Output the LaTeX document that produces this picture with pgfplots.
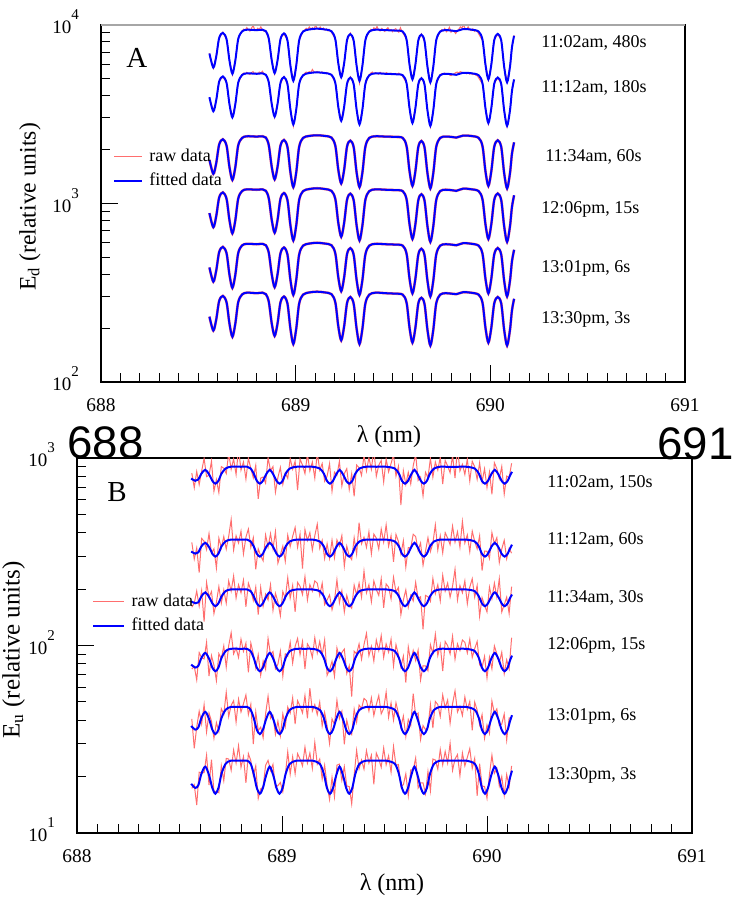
\documentclass[border=0pt]{standalone}
\usepackage{fontspec}
\setmainfont{Liberation Serif}
\newfontfamily\helv{Liberation Sans}
\usepackage{pgfplots}
\pgfplotsset{compat=1.18}
\usepackage{pgfplotstable}

\pgfplotstableread{
x a1 a2 a3 a4 a5 a6 b1 b2 b3 b4 b5 b6
688.557 6880 3920 1750 881 437 232 777 317 172 79.1 37.2 18.3
688.577 5740 3270 1460 734 364 194 756 309 168 76.3 35.6 17.4
688.592 6630 3780 1680 848 421 224 769 314 170 78.0 36.6 18.0
688.607 8410 4790 2130 1076 533 284 826 338 183 85.9 41.1 20.7
688.626 8980 5120 2280 1150 570 303 865 353 192 91.3 44.3 22.6
688.645 8270 4710 2100 1058 525 279 816 334 181 84.6 40.3 20.2
688.660 6280 3580 1590 803 398 212 756 309 168 76.3 35.6 17.4
688.675 5300 3020 1350 678 336 179 730 298 162 72.9 33.7 16.2
688.690 6280 3580 1590 803 398 212 756 309 168 76.3 35.6 17.4
688.705 8300 4730 2110 1063 527 280 826 338 183 85.9 41.1 20.7
688.725 9150 5220 2320 1171 581 309 879 359 195 93.4 45.4 23.4
688.750 9350 5330 2370 1196 593 316 898 367 199 96 47 24.3
688.800 9300 5300 2360 1190 590 314 898 367 199 96 47 24.3
688.830 9350 5330 2370 1196 593 316 898 367 199 96 47 24.3
688.847 9170 5230 2330 1173 582 310 879 359 195 93.4 45.4 23.4
688.862 8320 4740 2110 1065 528 281 826 338 183 85.9 41.1 20.7
688.877 6310 3600 1600 808 401 213 756 309 168 76.3 35.6 17.4
688.892 5350 3050 1360 684 339 181 730 298 162 72.9 33.7 16.2
688.907 6310 3600 1600 808 401 213 756 309 168 76.3 35.6 17.4
688.922 8270 4710 2100 1058 525 279 816 334 181 84.6 40.3 20.2
688.940 8920 5080 2260 1141 566 301 865 353 192 91.3 44.3 22.6
688.958 8120 4630 2060 1039 515 274 816 334 181 84.6 40.3 20.2
688.973 5890 3350 1490 753 373 199 756 309 168 76.3 35.6 17.4
688.988 4840 2760 1230 619 307 163 730 298 162 72.9 33.7 16.2
689.003 5890 3350 1490 753 373 199 756 309 168 76.3 35.6 17.4
689.018 8160 4650 2070 1044 517 275 826 338 183 85.9 41.1 20.7
689.038 9130 5200 2320 1169 579 308 879 359 195 93.4 45.4 23.4
689.070 9380 5350 2380 1201 595 317 898 367 199 96 47 24.3
689.110 9480 5400 2400 1213 601 320 898 367 199 96 47 24.3
689.150 9380 5350 2380 1201 595 317 898 367 199 96 47 24.3
689.184 9170 5230 2330 1173 582 310 879 359 195 93.4 45.4 23.4
689.204 8230 4690 2090 1053 522 278 826 338 183 85.9 41.1 20.7
689.219 6070 3460 1540 777 385 205 756 309 168 76.3 35.6 17.4
689.234 5070 2890 1290 649 322 171 730 298 162 72.9 33.7 16.2
689.249 6070 3460 1540 777 385 205 756 309 168 76.3 35.6 17.4
689.264 8190 4670 2080 1048 520 277 816 334 181 84.6 40.3 20.2
689.281 8840 5040 2240 1132 561 299 865 353 192 91.3 44.3 22.6
689.298 8120 4630 2060 1039 515 274 816 334 181 84.6 40.3 20.2
689.313 5890 3350 1490 753 373 199 756 309 168 76.3 35.6 17.4
689.328 4840 2760 1230 619 307 163 730 298 162 72.9 33.7 16.2
689.343 5890 3350 1490 753 373 199 756 309 168 76.3 35.6 17.4
689.358 8160 4650 2070 1044 517 275 826 338 183 85.9 41.1 20.7
689.378 9130 5200 2320 1169 579 308 879 359 195 93.4 45.4 23.4
689.410 9350 5330 2370 1196 593 316 898 367 199 96 47 24.3
689.460 9300 5300 2360 1190 590 314 898 367 199 96 47 24.3
689.510 9250 5270 2350 1184 587 312 898 367 199 96 47 24.3
689.550 9130 5200 2320 1169 579 308 879 359 195 93.4 45.4 23.4
689.570 8190 4670 2080 1048 520 277 826 338 183 85.9 41.1 20.7
689.585 5960 3400 1510 763 378 201 756 309 168 76.3 35.6 17.4
689.600 4930 2810 1250 631 313 166 730 298 162 72.9 33.7 16.2
689.615 5960 3400 1510 763 378 201 756 309 168 76.3 35.6 17.4
689.630 8140 4640 2065 1041 516 275 816 334 181 84.6 40.3 20.2
689.646 8780 5000 2230 1123 557 296 865 353 192 91.3 44.3 22.6
689.662 8080 4610 2050 1034 513 273 816 334 181 84.6 40.3 20.2
689.677 5810 3310 1475 744 369 196 756 309 168 76.3 35.6 17.4
689.692 4750 2710 1210 608 301 160 730 298 162 72.9 33.7 16.2
689.707 5810 3310 1475 744 369 196 756 309 168 76.3 35.6 17.4
689.722 8140 4640 2065 1041 516 275 826 338 183 85.9 41.1 20.7
689.742 9130 5200 2320 1169 579 308 879 359 195 93.4 45.4 23.4
689.770 9300 5300 2360 1190 590 314 898 367 199 96 47 24.3
689.800 9250 5270 2350 1184 587 312 898 367 199 96 47 24.3
689.825 9170 5230 2330 1173 582 310 898 367 199 96 47 24.3
689.860 9430 5370 2390 1207 598 318 898 367 199 96 47 24.3
689.900 9370 5340 2380 1198 594 316 898 367 199 96 47 24.3
689.940 9130 5200 2320 1169 579 308 879 359 195 93.4 45.4 23.4
689.960 8190 4670 2080 1048 520 277 826 338 183 85.9 41.1 20.7
689.975 5960 3400 1510 763 378 201 756 309 168 76.3 35.6 17.4
689.990 4930 2810 1250 631 313 166 730 298 162 72.9 33.7 16.2
690.005 5960 3400 1510 763 378 201 756 309 168 76.3 35.6 17.4
690.020 8160 4650 2070 1044 517 275 816 334 181 84.6 40.3 20.2
690.038 8860 5050 2250 1134 562 299 865 353 192 91.3 44.3 22.6
690.056 8140 4640 2065 1041 516 275 816 334 181 84.6 40.3 20.2
690.071 5810 3310 1475 744 369 196 756 309 168 76.3 35.6 17.4
690.086 4750 2710 1210 608 301 160 730 298 162 72.9 33.7 16.2
690.101 5810 3310 1475 744 369 196 756 309 168 76.3 35.6 17.4
690.111 7440 4240 1890 952 472 251 801 327 178 82.5 39.1 19.5
690.122 8650 4930 2190 1107 549 292 844 345 187 88.3 42.5 21.5
}\fitdata

\pgfplotstableread{
x y1 y2
688.557 6900 3880
688.577 5700 3300
688.592 6680 3750
688.607 8350 4830
688.626 9050 5080
688.645 8220 4750
688.660 6300 3560
688.675 5250 3050
688.690 6330 3600
688.705 8380 4700
688.725 9200 5250
688.733 9420 5350
688.741 9280 5280
688.749 9610 5400
688.757 9350 5320
688.765 9190 5250
688.773 9520 5380
688.781 9880 5450
688.789 9400 5300
688.797 9260 5360
688.805 9530 5270
688.813 9350 5420
688.821 9710 5330
688.829 9300 5480
688.837 9180 5290
688.845 9250 5250
688.862 8280 4780
688.877 6350 3570
688.892 5300 3020
688.907 6280 3630
688.922 8350 4680
688.940 8850 5120
688.958 8150 4600
688.973 5850 3380
688.988 4880 2700
689.003 5920 3320
689.018 8100 4700
689.038 9200 5180
689.046 9300 5330
689.054 9520 5420
689.062 9350 5370
689.070 9700 5450
689.078 9420 5390
689.086 9600 5600
689.094 9380 5420
689.102 9950 5380
689.110 9500 5460
689.118 9410 5400
689.126 9680 5350
689.134 9390 5430
689.142 9560 5380
689.150 9300 5320
689.158 9450 5390
689.166 9200 5340
689.174 9380 5280
689.182 9100 5250
689.204 8300 4720
689.219 6000 3430
689.234 5100 2920
689.249 6120 3480
689.264 8120 4630
689.281 8950 5100
689.298 8060 4650
689.313 5850 3310
689.328 4700 2790
689.343 5950 3380
689.358 8220 4620
689.378 9100 5230
689.386 9400 5350
689.394 9250 5420
689.402 9600 5300
689.410 9380 5380
689.418 9750 5330
689.426 9300 5270
689.434 9200 5400
689.442 9500 5320
689.450 9350 5350
689.458 9150 5290
689.466 9420 5380
689.474 9600 5310
689.482 9280 5260
689.490 9380 5340
689.498 9100 5300
689.506 9350 5250
689.514 9480 5320
689.522 9200 5280
689.530 9050 5350
689.538 9600 5240
689.546 9150 5200
689.570 8250 4700
689.585 5900 3370
689.600 4980 2840
689.615 6000 3420
689.630 8080 4600
689.646 8850 5050
689.662 8000 4640
689.677 5850 3290
689.692 4700 2680
689.707 5780 3340
689.722 8200 4670
689.742 9100 5180
689.750 9350 5310
689.758 9200 5280
689.766 9500 5350
689.774 9100 5260
689.782 9300 5300
689.790 9650 5230
689.798 9050 5180
689.806 9250 5250
689.814 9150 5300
689.822 8900 5380
689.830 9200 5420
689.838 9400 5360
689.846 9700 5450
689.854 9550 5400
689.862 9980 5330
689.870 9500 5380
689.878 9400 5300
689.886 9700 5350
689.894 9350 5280
689.902 9250 5320
689.910 9450 5250
689.918 9150 5300
689.926 9300 5200
689.934 9100 5150
689.960 8120 4640
689.975 6020 3430
689.990 4900 2780
690.005 5930 3380
690.020 8230 4690
690.038 8800 5020
690.056 8200 4660
690.071 5760 3330
690.086 4800 2690
690.101 5850 3290
690.111 7400 4260
690.122 8700 4900
}\rawAdata

\pgfplotstableread{
x b1 b2 b3 b4 b5 b6
688.560 831 355 160 74.9 40.6 17.3
688.572 694 289 168 77.3 28.3 18.1
688.584 847 331 195 65.6 36.7 14.1
688.596 721 245 162 91.6 44.6 21.1
688.608 851 372 196 85.9 38.2 20.9
688.620 995 360 134 84.9 48.3 21.0
688.632 796 325 217 104 34.6 26.0
688.644 809 395 181 68.7 43.6 18.0
688.656 961 311 194 88.3 39.5 24.6
688.668 665 328 148 78.6 32.0 16.5
688.680 767 259 170 64.9 38.8 16.7
688.692 654 374 206 90.5 34.8 16.4
688.704 900 331 168 85.0 46.0 22.8
688.716 882 381 198 99.5 43.0 19.0
688.728 826 327 168 76.6 56.3 25.0
688.740 1060 382 221 99.8 41.8 24.8
688.752 871 470 195 117 47.9 21.6
688.764 988 323 235 90.2 50.8 27.7
688.776 817 385 179 97.0 39.0 23.6
688.788 1123 352 211 86.4 51.7 29.2
688.800 862 407 191 108 44.2 22.4
688.812 952 308 223 93.1 48.9 25.5
688.824 772 378 161 103 54.5 18.5
688.836 997 418 215 72.0 42.8 26.5
688.848 879 334 197 103 48.6 24.3
688.860 785 376 174 90.1 29.8 20.2
688.872 913 255 205 75.9 44.2 22.8
688.884 605 328 146 89.3 35.2 15.3
688.896 781 301 204 69.3 36.7 17.2
688.908 792 283 162 82.7 32.2 17.6
688.920 735 389 188 74.7 43.2 23.0
688.932 1003 335 175 109 53.6 24.4
688.944 856 395 211 89.5 40.8 21.5
688.956 900 328 154 92.8 42.3 23.2
688.968 657 405 190 75.1 33.6 17.6
688.980 786 275 171 79.4 39.5 17.9
688.992 891 304 144 93.3 33.0 18.6
689.004 723 339 194 68.6 43.2 16.6
689.016 834 281 178 90.2 37.0 20.3
689.028 779 388 230 87.6 47.0 27.1
689.040 993 337 179 104 43.6 20.6
689.052 871 382 209 80.6 52.6 25.5
689.064 961 426 151 98.9 38.1 20.7
689.076 674 334 217 109 50.8 26.5
689.088 988 393 207 89.3 47.5 24.8
689.100 916 257 187 105 43.7 22.8
689.112 826 415 233 74.9 54.1 28.7
689.124 1051 363 175 102 40.9 23.6
689.136 853 400 211 97.0 59.2 26.7
689.148 952 323 195 86.4 44.7 22.1
689.160 781 385 221 110 48.4 30.4
689.172 1069 444 215 91.2 42.8 23.3
689.184 861 330 185 105 49.9 24.8
689.196 934 364 215 88.6 37.2 19.4
689.208 752 291 165 107 44.0 23.0
689.220 800 349 175 69.4 37.3 18.0
689.232 934 292 186 74.4 30.0 15.1
689.244 665 365 155 82.4 40.6 19.8
689.256 841 294 174 68.5 37.9 15.6
689.268 810 366 224 97.1 51.0 23.0
689.280 960 339 169 85.8 40.8 23.3
689.292 709 386 196 91.8 44.6 19.1
689.304 825 265 151 95.7 29.7 22.6
689.316 877 339 185 71.0 39.9 17.8
689.328 679 301 165 78.0 35.0 17.7
689.340 824 287 158 53.4 33.5 14.3
689.352 625 376 210 93.2 45.7 20.3
689.364 917 307 186 90.4 39.0 27.6
689.376 888 452 215 102 48.1 22.0
689.388 808 349 181 84.5 46.1 24.5
689.400 1033 378 249 101 52.2 21.9
689.412 853 334 191 116 50.8 27.5
689.424 1006 404 211 88.3 44.7 23.6
689.436 871 308 171 98.9 52.6 26.0
689.448 1114 393 221 82.6 42.3 18.2
689.460 799 374 199 107 48.4 26.7
689.472 916 327 185 94.1 54.1 24.8
689.484 970 418 227 113 43.2 22.4
689.496 745 356 159 86.4 46.1 28.4
689.508 988 440 213 102 56.4 23.1
689.520 844 338 205 92.2 41.4 25.8
689.532 934 385 177 108 49.4 21.1
689.544 1042 279 231 77.8 40.0 28.9
689.556 800 391 193 101 49.5 22.9
689.568 903 359 204 89.2 43.4 23.2
689.580 561 307 146 76.7 36.8 17.7
689.592 854 362 175 87.7 42.0 18.1
689.604 723 262 198 63.4 32.7 20.7
689.616 838 333 160 98.3 40.3 15.8
689.628 727 331 185 81.6 37.4 21.7
689.640 908 392 173 94.0 55.4 21.7
689.652 1047 381 217 83.1 42.5 25.1
689.664 760 321 178 94.5 43.6 17.4
689.676 792 352 182 65.5 31.5 18.5
689.688 628 268 122 78.0 37.4 18.5
689.700 839 318 185 77.8 35.6 16.2
689.712 785 376 182 73.4 36.4 21.3
689.724 996 317 172 101 48.5 16.8
689.736 791 352 228 90.6 36.3 24.8
689.748 952 440 189 115 50.3 24.5
689.760 862 323 211 88.3 48.4 21.9
689.772 1006 385 173 101 41.8 27.9
689.784 727 312 237 73.0 54.5 23.1
689.796 970 400 195 105 46.5 27.2
689.808 907 374 215 99.8 51.2 23.6
689.820 835 345 181 90.2 38.5 30.1
689.832 1033 433 207 112 48.9 21.6
689.844 781 356 255 84.5 57.3 24.8
689.856 1131 404 175 102 44.2 26.2
689.868 853 334 209 94.1 47.5 20.2
689.880 925 459 191 107 42.3 26.7
689.892 817 352 221 104 53.1 22.8
689.904 988 389 167 91.2 45.6 25.3
689.916 754 316 205 108 50.3 28.2
689.928 961 407 227 86.4 35.3 22.1
689.940 897 359 181 96.2 49.9 25.0
689.952 770 328 209 105 45.2 15.8
689.964 942 385 143 79.0 37.8 23.4
689.976 746 251 180 76.4 42.8 17.8
689.988 876 319 164 87.5 32.0 17.7
690.000 696 318 151 67.1 37.7 15.3
690.012 841 291 205 86.6 34.0 20.5
690.024 641 400 178 75.1 50.6 26.0
690.036 943 349 215 99.5 43.4 20.8
690.048 878 376 181 90.1 45.9 22.1
690.060 776 277 227 80.7 37.4 17.8
690.072 900 327 151 92.0 38.1 20.0
690.084 642 364 165 70.7 43.1 15.9
690.096 801 290 181 83.9 31.3 20.5
690.108 785 330 148 75.1 41.1 17.6
690.120 937 311 206 110 40.8 22.8
}\rawBdata

\definecolor{rawred}{RGB}{255,110,110}

\tikzset{
  rawline/.style={color=rawred, line width=0.5pt},
  fitline/.style={color=blue, line width=1pt, smooth, tension=0.5},
  halo/.style={color=rawred, line width=1.3pt, smooth, tension=0.5},
}

\newcommand{\tenp}[1]{10\raisebox{7pt}{\fontsize{7.5}{8}\selectfont #1}}

\begin{document}
\begin{tikzpicture}
\path[use as bounding box] (0,0) rectangle (367.5pt,451pt);

% ---------------- Panel A ----------------
\begin{axis}[at={(50.5pt,260pt)}, anchor=south west,
  scale only axis, width=292pt, height=178.75pt,
  ymode=log, xmin=688, xmax=691, ymin=100, ymax=10000,
  tick pos=left, tick align=inside,
  xtick={688,689,690,691}, xticklabels={688,689,690,691}, minor x tick num=9,
  ytick={100,1000,10000},
  yticklabels={\tenp{2},\tenp{3},\tenp{4}},
  minor ytick={200,300,400,500,600,700,800,900,2000,3000,4000,5000,6000,7000,8000,9000},
  major tick length=8.75pt, minor tick length=4.5pt,
  every tick/.append style={black, line width=0.5pt},
  axis line style={black, line width=0.6pt},
  xticklabel style={font=\fontsize{9.7}{11}\selectfont, yshift=-4.8pt},
  yticklabel style={font=\fontsize{9.5}{11}\selectfont, anchor=base east, xshift=-7.5pt, yshift=-4.5pt},
  legend cell align=left,
  legend image code/.code={\draw[#1] (0pt,0pt) -- (14pt,0pt);},
  legend style={at={(0.02,0.66)}, anchor=north west, draw=none, fill=none,
    font=\fontsize{9}{10}\selectfont, row sep=2pt, column sep=2pt, inner sep=0pt,
    nodes={inner sep=1.2pt}},
]
\addplot[rawline] table[x=x,y=y1]{\rawAdata}; \addlegendentry{raw data}
\addplot[rawline, forget plot] table[x=x,y=y2]{\rawAdata};
\addplot[halo, forget plot] table[x=x,y=a3]{\fitdata};
\addplot[halo, forget plot] table[x=x,y=a4]{\fitdata};
\addplot[halo, forget plot] table[x=x,y=a5]{\fitdata};
\addplot[halo, forget plot] table[x=x,y=a6]{\fitdata};
\addplot[fitline] table[x=x,y=a1]{\fitdata}; \addlegendentry{fitted data}
\addplot[fitline, forget plot] table[x=x,y=a2]{\fitdata};
\addplot[fitline, forget plot] table[x=x,y=a3]{\fitdata};
\addplot[fitline, forget plot] table[x=x,y=a4]{\fitdata};
\addplot[fitline, forget plot] table[x=x,y=a5]{\fitdata};
\addplot[fitline, forget plot] table[x=x,y=a6]{\fitdata};
\draw[gray!70, line width=1.2pt] (rel axis cs:0,1) -- (rel axis cs:1,1);
\end{axis}

% ---------------- Panel B ----------------
\begin{axis}[at={(38.5pt,34.5pt)}, anchor=south west,
  scale only axis, width=307.5pt, height=187.5pt,
  ymode=log, xmin=688, xmax=691, ymin=10, ymax=1000,
  tick pos=left, tick align=inside,
  xtick={688,689,690,691}, xticklabels={688,689,690,691}, minor x tick num=9,
  ytick={10,100,1000},
  yticklabels={\tenp{1},\tenp{2},\tenp{3}},
  minor ytick={20,30,40,50,60,70,80,90,200,300,400,500,600,700,800,900},
  major tick length=8.75pt, minor tick length=4.5pt,
  every tick/.append style={black, line width=0.5pt},
  axis line style={black, line width=0.6pt},
  xticklabel style={font=\fontsize{9.7}{11}\selectfont, yshift=-4.8pt},
  yticklabel style={font=\fontsize{9.5}{11}\selectfont, anchor=base east, xshift=-7.5pt, yshift=-4.5pt},
  legend cell align=left,
  legend image code/.code={\draw[#1] (0pt,0pt) -- (15.5pt,0pt);},
  legend style={at={(0.024,0.646)}, anchor=north west, draw=none, fill=none,
    font=\fontsize{9}{10}\selectfont, row sep=2pt, column sep=2pt, inner sep=0pt,
    nodes={inner sep=1.2pt}},
]
\addplot[rawline] table[x=x,y=b1]{\rawBdata}; \addlegendentry{raw data}
\addplot[rawline, forget plot] table[x=x,y=b2]{\rawBdata};
\addplot[rawline, forget plot] table[x=x,y=b3]{\rawBdata};
\addplot[rawline, forget plot] table[x=x,y=b4]{\rawBdata};
\addplot[rawline, forget plot] table[x=x,y=b5]{\rawBdata};
\addplot[rawline, forget plot] table[x=x,y=b6]{\rawBdata};
\addplot[fitline] table[x=x,y=b1]{\fitdata}; \addlegendentry{fitted data}
\addplot[fitline, forget plot] table[x=x,y=b2]{\fitdata};
\addplot[fitline, forget plot] table[x=x,y=b3]{\fitdata};
\addplot[fitline, forget plot] table[x=x,y=b4]{\fitdata};
\addplot[fitline, forget plot] table[x=x,y=b5]{\fitdata};
\addplot[fitline, forget plot] table[x=x,y=b6]{\fitdata};
\end{axis}

% ---------------- Texts ----------------
\begin{scope}[every node/.style={inner sep=0pt, anchor=west, font=\fontsize{9}{10}\selectfont}]
\node at (270.5pt,429.5pt) {11:02am, 480s};
\node at (270.5pt,407pt) {11:12am, 180s};
\node at (272.5pt,372.5pt) {11:34am, 60s};
\node at (270.5pt,346.5pt) {12:06pm, 15s};
\node at (270.5pt,317pt) {13:01pm, 6s};
\node at (270.5pt,291.5pt) {13:30pm, 3s};
\node at (273.5pt,209.5pt) {11:02am, 150s};
\node at (273.5pt,181pt) {11:12am, 60s};
\node at (273.5pt,152pt) {11:34am, 30s};
\node at (273.5pt,128.5pt) {12:06pm, 15s};
\node at (273.5pt,93pt) {13:01pm, 6s};
\node at (273.5pt,63.5pt) {13:30pm, 3s};
\end{scope}

\node[inner sep=0pt, anchor=west, font=\fontsize{14.5}{16}\selectfont] at (63pt,422pt) {A};
\node[inner sep=0pt, anchor=west, font=\fontsize{14.5}{16}\selectfont] at (53.5pt,205pt) {B};

\node[font=\fontsize{12}{14}\selectfont] at (194.5pt,232.5pt) {λ (nm)};
\node[font=\fontsize{12}{14}\selectfont] at (196pt,8.5pt) {λ (nm)};

\node[rotate=90, font=\fontsize{11.8}{14}\selectfont] at (15pt,347.5pt) {E\textsubscript{d} (relative units)};
\node[rotate=90, inner sep=0pt, font=\fontsize{12.5}{14}\selectfont] at (6.8pt,126pt) {E\textsubscript{u} (relative units)};

\node[inner sep=0pt, anchor=base west, font=\helv\fontsize{22.8}{26}\selectfont] at (33.5pt,222pt) {688};
\node[inner sep=0pt, anchor=base west, font=\helv\fontsize{22.8}{26}\selectfont] at (328.5pt,221pt) {691};
\end{tikzpicture}
\end{document}
